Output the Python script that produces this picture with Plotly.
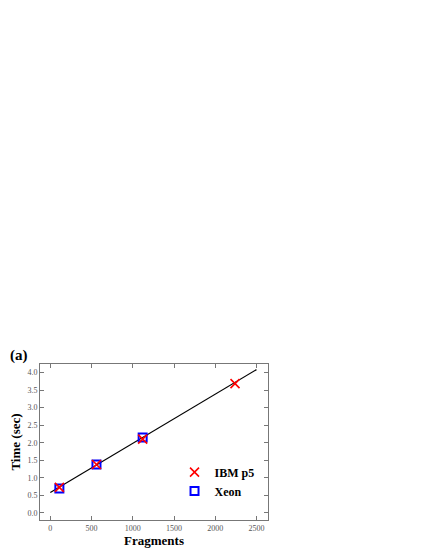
"""Timing vs fragment count, panel (a)."""

import plotly.graph_objects as go

# data
ibm_fragments = [110, 560, 1120, 2240]
ibm_time = [0.73, 1.38, 2.10, 3.68]

xeon_fragments = [110, 560, 1120]
xeon_time = [0.70, 1.38, 2.15]

fit_fragments = [0, 2500]
fit_time = [0.58, 4.08]

x_ticks = [0, 500, 1000, 1500, 2000, 2500]
y_ticks = [0.0, 0.5, 1.0, 1.5, 2.0, 2.5, 3.0, 3.5, 4.0]

SERIF = "Times New Roman, Liberation Serif, serif"
AXIS_GREY = "#777777"

fig = go.Figure()

fig.add_trace(
    go.Scatter(
        x=fit_fragments,
        y=fit_time,
        mode="lines",
        line=dict(color="black", width=1.2),
        showlegend=False,
        hoverinfo="skip",
    )
)
fig.add_trace(
    go.Scatter(
        x=xeon_fragments,
        y=xeon_time,
        mode="markers",
        name="<b>Xeon</b>",
        marker=dict(
            symbol="square-open",
            size=8,
            color="blue",
            line=dict(width=2, color="blue"),
        ),
    )
)
fig.add_trace(
    go.Scatter(
        x=ibm_fragments,
        y=ibm_time,
        mode="markers",
        name="<b>IBM p5</b>",
        marker=dict(
            symbol="x-thin-open",
            size=9,
            color="red",
            line=dict(width=1.6, color="red"),
        ),
    )
)

axis_style = dict(
    showline=True,
    linecolor=AXIS_GREY,
    linewidth=1,
    mirror="ticks",
    ticks="inside",
    ticklen=4,
    tickcolor=AXIS_GREY,
    showgrid=False,
    zeroline=False,
    automargin=False,
    tickfont=dict(family=SERIF, size=8, color="#555555"),
)

fig.update_xaxes(
    range=[-125, 2640],
    tickvals=x_ticks,
    ticktext=[str(v) for v in x_ticks],
    title=dict(
        text="<b>Fragments</b>",
        font=dict(family=SERIF, size=13, color="black"),
        standoff=4,
    ),
    **axis_style,
)
fig.update_yaxes(
    range=[-0.2, 4.24],
    tickvals=y_ticks,
    ticktext=[f"{v:.1f}" for v in y_ticks],
    title=dict(
        text="<b>Time (sec)</b>",
        font=dict(family=SERIF, size=13, color="black"),
        standoff=9,
    ),
    **axis_style,
)

# page body adds an 8px offset, so the figure is 8px smaller each way
fig.update_layout(
    width=417,
    height=542,
    margin=dict(l=32, r=157, t=356, b=30),
    paper_bgcolor="white",
    plot_bgcolor="white",
    legend=dict(
        x=0.59,
        y=0.40,
        xanchor="left",
        yanchor="top",
        traceorder="reversed",
        bgcolor="rgba(0,0,0,0)",
        font=dict(family=SERIF, size=12, color="black"),
        itemwidth=30,
        tracegroupgap=2,
    ),
    annotations=[
        dict(
            text="<b>(a)</b>",
            xref="paper",
            yref="paper",
            x=-0.14,
            y=1.055,
            xanchor="left",
            yanchor="middle",
            showarrow=False,
            font=dict(family=SERIF, size=15, color="black"),
        )
    ],
)

fig.write_html("out.html")
